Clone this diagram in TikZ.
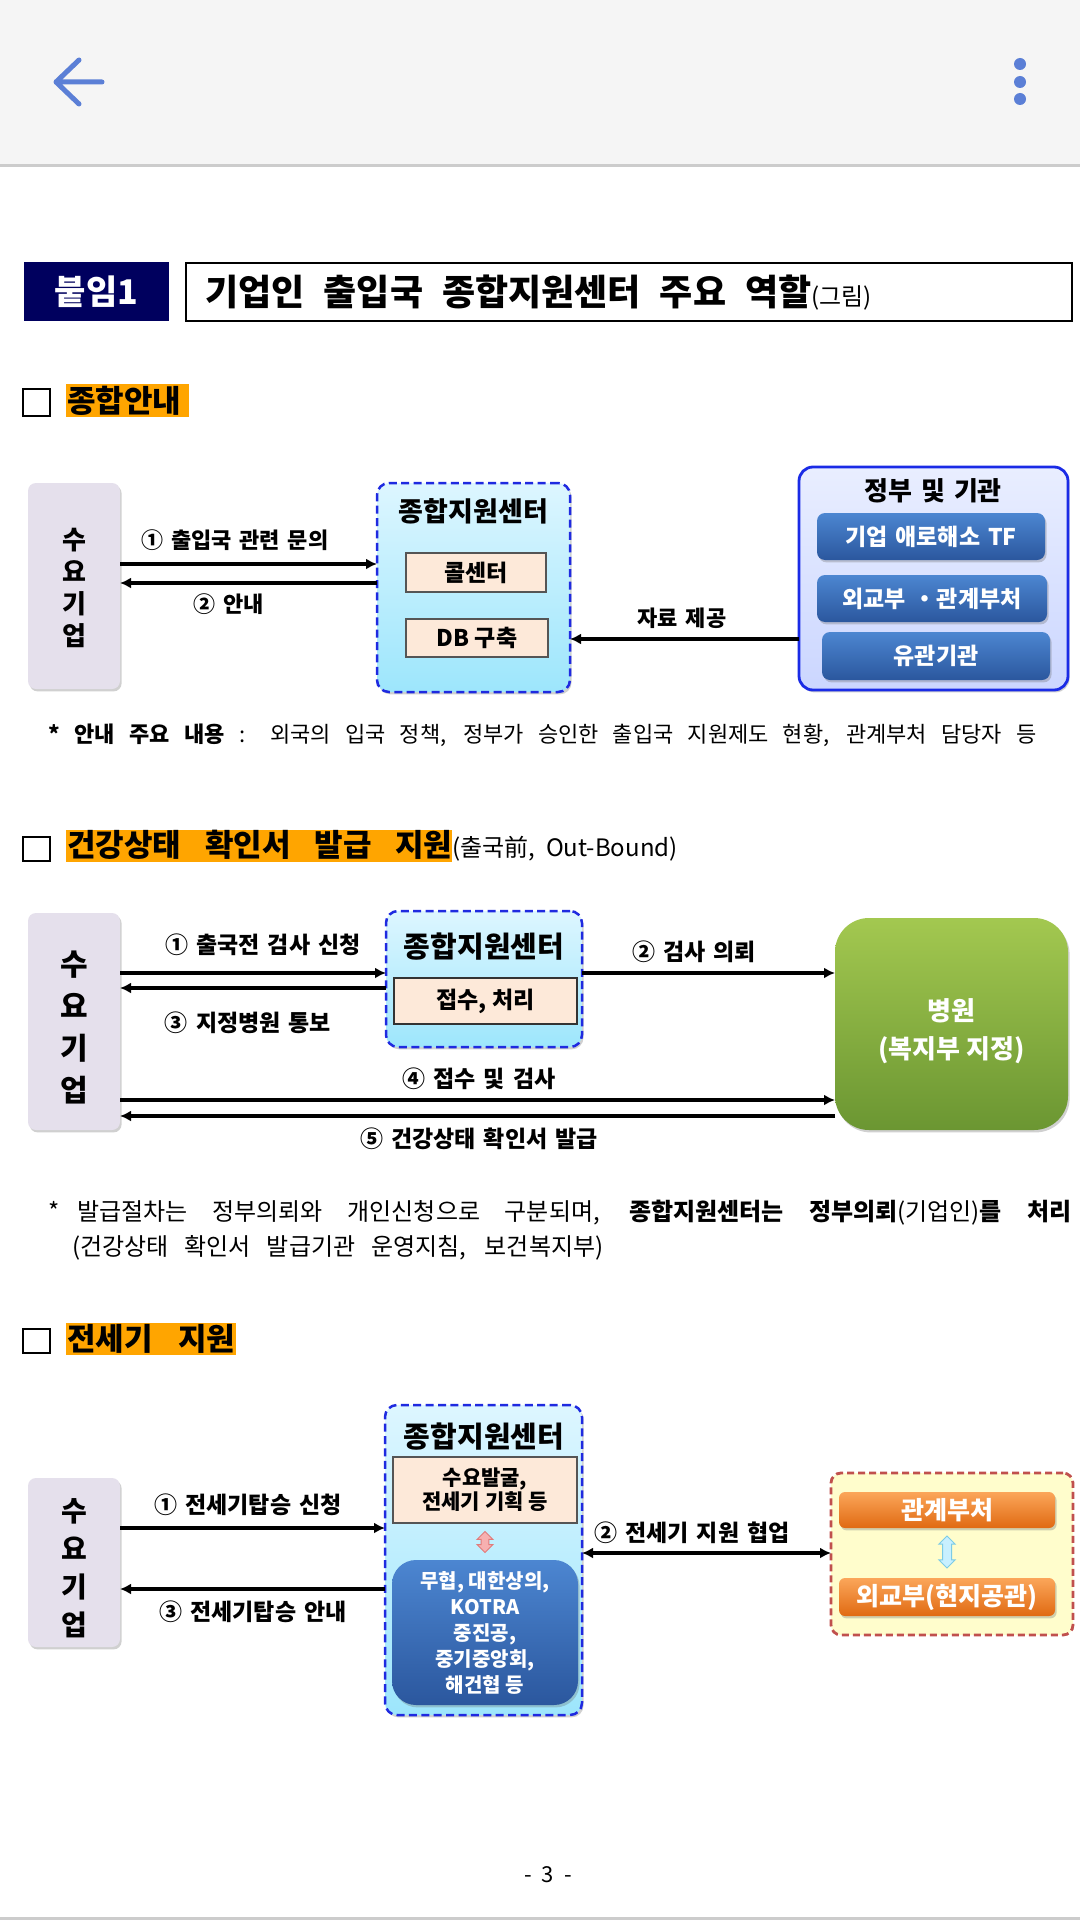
\documentclass[tikz,border=0pt]{standalone}
\usepackage{fontspec}
\setmainfont{Noto Sans CJK KR}
\usetikzlibrary{arrows.meta,fit,shadows,shapes.arrows}
\definecolor{hdrbg}{HTML}{F5F5F5}
\definecolor{hdrline}{HTML}{CCCCCC}
\definecolor{hdricon}{HTML}{5B7FD6}
\definecolor{navy}{HTML}{00005E}
\definecolor{hlor}{HTML}{FFA500}
\definecolor{syfill}{HTML}{E5E0EC}
\definecolor{cyTop}{HTML}{DDF6FF}
\definecolor{cyBot}{HTML}{9DE6FC}
\definecolor{dblue}{HTML}{1F2AE0}
\definecolor{peach}{HTML}{FDE9D9}
\definecolor{peachline}{HTML}{555555}
\definecolor{govTop}{HTML}{E9EEFF}
\definecolor{govBot}{HTML}{CBD6FF}
\definecolor{govline}{HTML}{1A2BE6}
\definecolor{bTop}{HTML}{4C86D1}
\definecolor{bBot}{HTML}{2B579E}
\definecolor{gTop}{HTML}{A3C850}
\definecolor{gBot}{HTML}{6B9632}
\definecolor{yfill}{HTML}{FFFDCC}
\definecolor{rline}{HTML}{C0504D}
\definecolor{oTop}{HTML}{FBA65A}
\definecolor{oBot}{HTML}{E06A12}
\definecolor{pinkf}{HTML}{F7B0B0}
\definecolor{pinkd}{HTML}{E07B7B}
\definecolor{lbf}{HTML}{C8F0FF}
\definecolor{lbd}{HTML}{7CCCE6}
\newcommand\fsz[2]{\fontsize{#1pt}{#2pt}\selectfont}
\newcommand\wsp{\spaceskip=0.35em plus 0.1em\relax}
\tikzset{
 fitbox/.style={inner sep=0pt, outer sep=0pt},
 shd/.style={drop shadow={shadow xshift=0.8pt, shadow yshift=-1.2pt, opacity=0.3, fill=black!60}},
 demand/.style={fitbox, fill=syfill, rounded corners=4pt, shd},
 centre/.style={fitbox, top color=cyTop, bottom color=cyBot, draw=dblue, line width=1.25pt, dash pattern=on 4pt off 2.2pt, rounded corners=6pt, shd},
 peachbox/.style={fitbox, fill=peach, draw=peachline, line width=0.7pt},
 govbox/.style={fitbox, top color=govTop, bottom color=govBot, draw=govline, line width=1.4pt, rounded corners=7pt, shd},
 bluebox/.style={fitbox, top color=bTop, bottom color=bBot, rounded corners=4pt, shd},
 hospbox/.style={fitbox, top color=gTop, bottom color=gBot, rounded corners=17pt, shd},
 partbox/.style={fitbox, fill=yfill, draw=rline, line width=1.4pt, dash pattern=on 3.5pt off 2pt, rounded corners=5pt},
 orbox/.style={fitbox, top color=oTop, bottom color=oBot, rounded corners=3pt, shd},
 tx/.style={inner sep=0pt, align=center},
 wtx/.style={tx, text=white},
 arr/.style={line width=2pt, -{Latex[length=5.5pt,width=5.5pt]}},
 arrboth/.style={line width=2pt, {Latex[length=5.5pt,width=5.5pt]}-{Latex[length=5.5pt,width=5.5pt]}},
 labA/.style={inner sep=0pt, font=\bfseries\fsz{11}{13}\wsp},
 labB/.style={inner sep=0pt, font=\bfseries\fsz{11.5}{13}\wsp},
 notetx/.style={inner sep=0pt, anchor=west, font=\fsz{11}{13}},
 sqbox/.style={fitbox, draw=black, line width=1.4pt},
 hilite/.style={fitbox, fill=hlor},
 headtx/.style={inner sep=0pt, anchor=west, font=\bfseries\fsz{15.5}{18}},
 dblarr/.style={double arrow, rotate=90, inner xsep=0pt, double arrow head extend=2pt}
}
\begin{document}
\begin{tikzpicture}[x=0.5pt,y=-0.5pt]
\useasboundingbox (0,0) rectangle (1080,1920);
\fill[white] (0,0) rectangle (1080,1920);

% ---------- header bar ----------
\fill[hdrbg] (0,0) rectangle (1080,164);
\fill[hdrline] (0,164) rectangle (1080,167);
\draw[hdricon, line width=2.5pt, line cap=round, line join=round] (79,60) -- (56,82) -- (79,104) (56,82) -- (102,82);
\fill[hdricon] (1020,64) circle[radius=3pt] (1020,82) circle[radius=3pt] (1020,99) circle[radius=3pt];

% ---------- title ----------
\node[fitbox, fill=navy, fit={(24,262) (169,321)}] (tag) {};
\node[wtx, font=\bfseries\fsz{17}{20}] (tagtx) at (tag.center) {붙임1};
\node[fitbox, draw=black, line width=1pt, fit={(186,263) (1072,321)}] (ttlbox) {};
\node[inner sep=0pt, anchor=west] (ttl) at (205,293) {\fsz{18}{20}\bfseries\makebox[303pt][s]{기업인 출입국 종합지원센터 주요 역할}{\fsz{12}{14}\mdseries(그림)}};

% ---------- section 1 ----------
\node[sqbox, fit={(23,389) (50,416)}] (sq1) {};
\node[hilite, fit={(66,384) (189,417)}] (hl1) {};
\node[headtx] (h1) at (67,400.5) {종합안내};

\node[demand, fit={(28,483) (120,689)}] (sy1) {};
\node[tx, font=\bfseries\fsz{13}{16}] (sy1t) at (74,588) {수\\요\\기\\업};
\node[centre, fit={(377,483) (570,692)}] (cen1) {};
\node[tx, font=\bfseries\fsz{13.5}{15}] (cen1t) at (473.5,511) {종합지원센터};
\node[peachbox, fit={(406,553) (546,592)}] (call) {};
\node[tx, font=\bfseries\fsz{11.5}{13}] (callt) at (call.center) {콜센터};
\node[peachbox, fit={(406,619) (548,657)}] (db) {};
\node[tx, font=\bfseries\fsz{11.5}{13}] (dbt) at (db.center) {DB 구축};

\node[govbox, fit={(799,467) (1068,690)}] (gov) {};
\node[tx, font=\bfseries\fsz{13}{14}\wsp] (govt) at (933,491) {정부 및 기관};
\node[bluebox, fit={(817,513) (1045,560)}] (gb1) {};
\node[wtx, font=\bfseries\fsz{11.5}{13}\wsp] (gb1t) at (gb1.center) {기업 애로해소 TF};
\node[bluebox, fit={(817,575) (1047,622)}] (gb2) {};
\node[wtx, font=\bfseries\fsz{11.5}{13}\wsp] (gb2t) at (gb2.center) {외교부 ・관계부처};
\node[bluebox, fit={(822,632) (1050,680)}] (gb3) {};
\node[wtx, font=\bfseries\fsz{11.5}{13}] (gb3t) at (gb3.center) {유관기관};

\coordinate (a1) at (0,564);
\coordinate (a2) at (0,583);
\coordinate (a3) at (0,639);
\draw[arr] (sy1.east |- a1) -- (cen1.west |- a1);
\draw[arr] (cen1.west |- a2) -- (sy1.east |- a2);
\draw[arr] (gov.west |- a3) -- (cen1.east |- a3);
\node[labA] (l1a) at (235,540) {① 출입국 관련 문의};
\node[labA] (l1b) at (229,604) {② 안내};
\node[labA] (l1c) at (682,618) {자료 제공};

\node[notetx] (n1) at (48,735) {\makebox[494pt][s]{{\bfseries * 안내 주요 내용} : 외국의 입국 정책, 정부가 승인한 출입국 지원제도 현황, 관계부처 담당자 등}};

% ---------- section 2 ----------
\node[sqbox, fit={(23,837) (50,861)}] (sq2) {};
\node[hilite, fit={(66,830) (452,862)}] (hl2) {};
\node[headtx] (h2) at (67,846) {\makebox[192.5pt][s]{건강상태 확인서 발급 지원}{\fsz{12}{14}\mdseries(출국前,\ \ Out-Bound)}};

\node[demand, fit={(28,913) (120,1130)}] (sy2) {};
\node[tx, font=\bfseries\fsz{15}{21}] (sy2t) at (74,1027) {수\\요\\기\\업};
\node[centre, fit={(386,911) (582,1047)}] (cen2) {};
\node[tx, font=\bfseries\fsz{14.5}{16}] (cen2t) at (484,947) {종합지원센터};
\node[peachbox, fit={(394,978) (577,1024)}, draw=black!80, line width=1pt] (proc) {};
\node[tx, font=\bfseries\fsz{11.5}{13}] (proct) at (proc.center) {접수, 처리};
\node[hospbox, fit={(835,918) (1068,1130)}] (hosp) {};
\node[wtx, font=\bfseries\fsz{13}{19}] (hospt) at (951.5,1031) {병원\\(복지부 지정)};

\coordinate (b1) at (0,973);
\coordinate (b2) at (0,988);
\coordinate (b4) at (0,1100);
\coordinate (b5) at (0,1116);
\draw[arr] (sy2.east |- b1) -- (cen2.west |- b1);
\draw[arr] (cen2.west |- b2) -- (sy2.east |- b2);
\draw[arr] (cen2.east |- b1) -- (hosp.west |- b1);
\draw[arr] (sy2.east |- b4) -- (hosp.west |- b4);
\draw[arr] (hosp.west |- b5) -- (sy2.east |- b5);
\node[labB] (l2a) at (263,945) {① 출국전 검사 신청};
\node[labB] (l2b) at (248,1023) {③ 지정병원 통보};
\node[labB] (l2c) at (694,952) {② 검사 의뢰};
\node[labB] (l2d) at (479,1079) {④ 접수 및 검사};
\node[labB] (l2e) at (479,1139) {⑤ 건강상태 확인서 발급};

\node[notetx, font=\fsz{12}{14}] (n2a) at (48,1213) {\makebox[511.5pt][s]{*\hspace{9pt}발급절차는 정부의뢰와 개인신청으로 구분되며, {\bfseries 종합지원센터는 정부의뢰}(기업인){\bfseries 를 처리}}};
\node[notetx, font=\fsz{12}{14}] (n2b) at (72,1248) {\makebox[265.5pt][s]{(건강상태 확인서 발급기관 운영지침, 보건복지부)}};

% ---------- section 3 ----------
\node[sqbox, fit={(23,1329) (50,1353)}] (sq3) {};
\node[hilite, fit={(66,1323) (236,1355)}] (hl3) {};
\node[headtx] (h3) at (67,1339) {\makebox[84pt][s]{전세기 지원}};

\node[demand, fit={(28,1478) (120,1647)}] (sy3) {};
\node[tx, font=\bfseries\fsz{14}{19}] (sy3t) at (74,1568) {수\\요\\기\\업};
\node[centre, fit={(385,1405) (582,1715)}] (cen3) {};
\node[tx, font=\bfseries\fsz{14.5}{16}] (cen3t) at (484,1437) {종합지원센터};
\node[peachbox, fit={(393,1457) (577,1523)}] (plan) {};
\node[tx, font=\bfseries\fsz{10.5}{12}] (plant) at (plan.center) {수요발굴,\\전세기 기획 등};
\node[dblarr, draw=pinkd, fill=pinkf, line width=0.5pt, inner ysep=1.7pt, minimum height=10.5pt] (pk) at (485,1542) {};
\node[bluebox, fit={(392,1560) (578,1705)}, rounded corners=12pt] (orgs) {};
\node[wtx, font=\bfseries\fsz{10}{13}] (orgst) at (orgs.center) {무협, 대한상의,\\KOTRA\\중진공,\\중기중앙회,\\해건협 등};

\node[partbox, fit={(831,1473) (1073,1635)}] (part) {};
\node[orbox, fit={(839,1492) (1055,1528)}] (ob1) {};
\node[wtx, font=\bfseries\fsz{12.5}{15}] (ob1t) at (ob1.center) {관계부처};
\node[orbox, fit={(839,1578) (1055,1616)}] (ob2) {};
\node[wtx, font=\bfseries\fsz{12.5}{15}] (ob2t) at (ob2.center) {외교부(현지공관)};
\node[dblarr, draw=lbd, fill=lbf, line width=0.5pt, inner ysep=2pt, double arrow head extend=1.8pt, minimum height=16pt] (lb) at (947,1552) {};

\coordinate (c1y) at (0,1528);
\coordinate (c2y) at (0,1553);
\coordinate (c3y) at (0,1589);
\draw[arr] (sy3.east |- c1y) -- (cen3.west |- c1y);
\draw[arr] (cen3.west |- c3y) -- (sy3.east |- c3y);
\draw[arrboth] (cen3.east |- c2y) -- (part.west |- c2y);
\node[labB] (l3a) at (248,1505) {① 전세기탑승 신청};
\node[labB] (l3b) at (253,1612) {③ 전세기탑승 안내};
\node[labB] (l3c) at (692,1533) {② 전세기 지원 협업};

% ---------- footer ----------
\node[inner sep=0pt, font=\fsz{11}{13}] (pg) at (548,1875) {-\hspace{5pt}3\hspace{5pt}-};
\fill[hdrline] (0,1917) rectangle (1080,1920);
\end{tikzpicture}
\end{document}
